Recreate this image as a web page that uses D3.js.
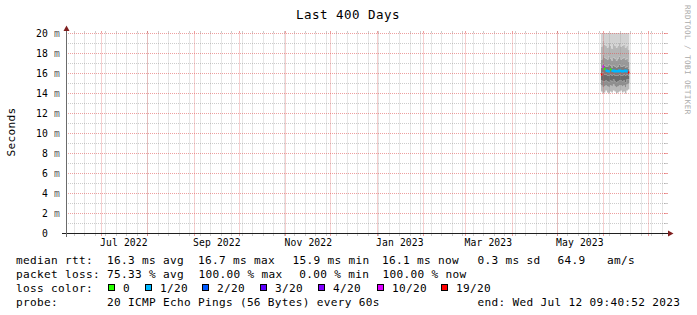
<!DOCTYPE html>
<html>
<head>
<meta charset="utf-8">
<script src="https://cdn.jsdelivr.net/npm/d3@7"></script>
<style>
  html, body { margin: 0; padding: 0; background: #fff; }
  svg { display: block; opacity: 0.999; }
  text { font-family: "DejaVu Sans Mono", monospace; white-space: pre; fill: #000; }
</style>
</head>
<body>
<div id="chart"></div>
<script>
// ---- data ----
const title = 'Last 400 Days';
const yLabel = 'Seconds';
const endTime = new Date(2023, 6, 12, 9, 40, 52);
const rangeDays = 400;

const yTicks = [0, 2, 4, 6, 8, 10, 12, 14, 16, 18, 20];

const days = ['2023-05-30', '2023-05-31', '2023-06-01', '2023-06-02', '2023-06-03', '2023-06-04',
  '2023-06-05', '2023-06-06', '2023-06-07', '2023-06-08', '2023-06-09', '2023-06-10', '2023-06-11',
  '2023-06-12', '2023-06-13', '2023-06-14', '2023-06-15', '2023-06-16', '2023-06-17'];

// median rtt (ms) and lost pings out of 20
const median = [15.9, 16.7, 16.45, 16.3, 16.25, 16.2, 16.4, 16.25, 16.3, 16.2, 16.25, 16.2, 16.3, 16.25, 16.2, 16.25, 16.3, 16.2, 16.1];
const loss = [19, 10, 0, 1, 1, 1, 0, 1, 1, 1, 1, 1, 1, 1, 1, 1, 1, 1, 19];

// smoke: spread of the 20 pings (ms)
const smokeLo  = [14.2, 14.0, 14.1, 14.3, 14.1, 14.0, 14.2, 14.1, 14.3, 14.2, 14.0, 14.1, 14.2, 14.3, 14.1, 14.2, 14.0, 14.3, 14.4];
const smokeP10 = [14.8, 14.6, 14.7, 14.8, 14.7, 14.6, 14.8, 14.7, 14.9, 14.7, 14.6, 14.7, 14.8, 14.8, 14.7, 14.8, 14.6, 14.9, 15.0];
const smokeP25 = [15.3, 15.2, 15.2, 15.3, 15.2, 15.1, 15.3, 15.2, 15.4, 15.2, 15.1, 15.2, 15.3, 15.3, 15.2, 15.3, 15.1, 15.4, 15.4];
const smokeP40 = [15.8, 16.1, 15.9, 15.9, 15.8, 15.8, 15.9, 15.8, 15.9, 15.8, 15.8, 15.8, 15.9, 15.8, 15.8, 15.9, 15.8, 15.9, 15.8];
const smokeP60 = [16.6, 17.0, 16.8, 16.7, 16.7, 16.9, 16.8, 16.6, 16.8, 16.7, 16.6, 16.7, 16.9, 16.7, 16.7, 16.8, 16.6, 16.7, 16.5];
const smokeP75 = [17.4, 17.9, 17.6, 17.5, 17.4, 17.7, 17.5, 17.3, 17.6, 17.5, 17.3, 17.5, 17.7, 17.4, 17.5, 17.6, 17.4, 17.5, 17.2];
const smokeP90 = [18.7, 19.3, 18.9, 18.8, 18.6, 19.1, 18.8, 18.5, 19.0, 18.8, 18.6, 18.8, 19.1, 18.7, 18.8, 18.9, 18.6, 18.8, 18.4];
const smokeHi  = [20.6, 21.4, 20.9, 20.7, 20.5, 21.2, 20.8, 20.4, 21.0, 20.8, 20.3, 20.7, 21.1, 20.6, 20.9, 20.8, 20.5, 20.7, 20.2];

const lossSteps = [0, 1, 2, 3, 4, 10, 19];
const lossLabels = ['0', '1/20', '2/20', '3/20', '4/20', '10/20', '19/20'];
const lossColors = ['#26ff00', '#00b8ff', '#0059ff', '#5e00ff', '#7e00ff', '#dd00ff', '#ff0000'];

const legendRtt = ['median rtt:', '16.3 ms avg', '16.7 ms max', '15.9 ms min', '16.1 ms now', '0.3 ms sd', '64.9', 'am/s'];
const legendLoss = ['packet loss:', '75.33 % avg', '100.00 % max', '0.00 % min', '100.00 % now'];
const probeText = ['probe:', '20 ICMP Echo Pings (56 Bytes) every 60s', 'end: Wed Jul 12 09:40:52 2023'];
const watermark = 'RRDTOOL / TOBI OETIKER';

// ---- drawing ----
const W = 697, H = 315;
const svg = d3.select('#chart').append('svg').attr('width', W).attr('height', H);

const startTime = d3.timeDay.offset(endTime, -rangeDays);
const x = d3.scaleTime().domain([startTime, endTime]).range([66, 666]);
const y = d3.scaleLinear().domain([0, 20]).range([233.5, 33.5]);
const px = v => Math.floor(v) + 0.5;

const parse = d3.timeParse('%Y-%m-%d');
const rows = days.map((d, i) => ({
  t: parse(d), t1: d3.timeDay.offset(parse(d), 1),
  lo: smokeLo[i], p10: smokeP10[i], p25: smokeP25[i], p40: smokeP40[i],
  p60: smokeP60[i], p75: smokeP75[i], p90: smokeP90[i], hi: smokeHi[i],
  med: median[i], loss: loss[i]
}));
const stepRows = rows.concat([Object.assign({}, rows[rows.length - 1], { t: rows[rows.length - 1].t1 })]);

svg.append('clipPath').attr('id', 'plot')
  .append('rect').attr('x', 66).attr('y', 33).attr('width', 601).attr('height', 201);

// smoke bands, outer light to inner dark
const bands = [
  ['lo', 'p10', '#b9b9b9'], ['p10', 'p25', '#8e8e8e'], ['p25', 'p40', '#6c6c6c'],
  ['p40', 'p60', '#7c7c7c'], ['p60', 'p75', '#9a9a9a'], ['p75', 'p90', '#b6b6b6'], ['p90', 'hi', '#d2d2d2']
];
const smoke = svg.append('g').attr('clip-path', 'url(#plot)');
bands.forEach(([a, b, c]) => {
  smoke.append('path').datum(stepRows)
    .attr('fill', c)
    .attr('d', d3.area().curve(d3.curveStepAfter)
      .x(d => x(d.t)).y0(d => y(d[a])).y1(d => y(d[b])));
});

// grid
const grid = svg.append('g').attr('fill', 'none').attr('stroke-width', 1);
const minorColor = 'rgba(143,143,143,0.45)', majorColor = 'rgba(224,80,80,0.55)';
function hLine(v, color) {
  const yy = y(v);
  grid.append('line').attr('x1', 66).attr('x2', 666).attr('y1', yy).attr('y2', yy)
    .attr('stroke', color).attr('stroke-dasharray', '1,1');
  grid.append('line').attr('x1', 664).attr('x2', 668).attr('y1', yy).attr('y2', yy).attr('stroke', color);
}
function vLine(t, color) {
  const xx = px(x(t));
  grid.append('line').attr('x1', xx).attr('x2', xx).attr('y1', 33.5).attr('y2', 233.5)
    .attr('stroke', color).attr('stroke-dasharray', '1,1');
  grid.append('line').attr('x1', xx).attr('x2', xx).attr('y1', 31).attr('y2', 33).attr('stroke', color);
  grid.append('line').attr('x1', xx).attr('x2', xx).attr('y1', 234).attr('y2', 236).attr('stroke', color);
}
y.ticks(20).filter(v => v % 2 !== 0).forEach(v => hLine(v, minorColor));
d3.timeMonday.range(startTime, endTime).forEach(t => vLine(t, minorColor));
yTicks.filter(v => v > 0).forEach(v => hLine(v, majorColor));
d3.timeMonth.range(startTime, endTime).forEach(t => vLine(t, majorColor));

// median line coloured by loss, one path per run of equal loss
const lossColor = l => lossColors[lossSteps.indexOf(l)];
const runs = [];
rows.forEach(r => {
  const last = runs[runs.length - 1];
  if (last && last.loss === r.loss) last.pts.push(r); else runs.push({ loss: r.loss, pts: [r] });
});
const medLine = d3.line().x(p => x(p[0])).y(p => y(p[1]));
runs.forEach(run => {
  const pts = [];
  run.pts.forEach(r => { pts.push([r.t, r.med]); pts.push([r.t1, r.med]); });
  svg.append('path').attr('d', medLine(pts))
    .attr('fill', 'none').attr('stroke', lossColor(run.loss)).attr('stroke-width', 2);
});

// axes and arrows
const axis = svg.append('g');
axis.append('line').attr('x1', 62).attr('x2', 669).attr('y1', 233.5).attr('y2', 233.5)
  .attr('stroke', '#1f1f1f');
axis.append('line').attr('x1', 66.5).attr('x2', 66.5).attr('y1', 237).attr('y2', 30)
  .attr('stroke', '#6b6b6b');
axis.append('path').attr('d', 'M668,230.5L668,236.5L673.5,233.5Z').attr('fill', '#7f1f1f');
axis.append('path').attr('d', 'M63.5,31L69.5,31L66.5,25.5Z').attr('fill', '#7f1f1f');

// axis labels
const tickFont = { size: '9.7px', ls: '0.16px' };
yTicks.forEach(v => {
  svg.append('text').attr('x', 48).attr('y', y(v) + 3.5).attr('text-anchor', 'end')
    .style('font-size', tickFont.size).style('letter-spacing', tickFont.ls).text(v === 0 ? '0' : v);
  if (v > 0) {
    svg.append('text').attr('x', 54).attr('y', y(v) + 3.5)
      .style('font-size', tickFont.size).style('letter-spacing', tickFont.ls)
      .style('fill', '#5a5a5a').text('m');
  }
});
d3.timeMonth.every(2).range(startTime, endTime)
  .filter(t => x(d3.timeDay.offset(t, 15)) < 666)
  .forEach(t => {
    svg.append('text').attr('x', x(d3.timeDay.offset(t, 15))).attr('y', 245.5)
      .attr('text-anchor', 'middle')
      .style('font-size', tickFont.size).style('letter-spacing', tickFont.ls)
      .text(d3.timeFormat('%b %Y')(t));
  });

svg.append('text').attr('transform', 'translate(15,132) rotate(-90)').attr('text-anchor', 'middle')
  .style('font-size', '11.1px').style('letter-spacing', '0.3px').text(yLabel);

svg.append('text').attr('x', 348).attr('y', 18.5).attr('text-anchor', 'middle')
  .style('font-size', '12.5px').style('letter-spacing', '0.47px').text(title);

svg.append('text').attr('transform', 'translate(685,5) rotate(90)')
  .style('font-size', '7.6px').style('letter-spacing', '0.42px').style('fill', '#aaaaaa')
  .text(watermark);

// legend
const lg = svg.append('g').style('font-size', '11.1px').style('letter-spacing', '0.315px');
const rttX = [16, 107, 198, 292.5, 382, 477.5, 557.5, 607];
legendRtt.forEach((s, i) => lg.append('text').attr('x', rttX[i]).attr('y', 264).text(s));
const lossX = [16, 107, 198.5, 299.3, 382.5];
legendLoss.forEach((s, i) => lg.append('text').attr('x', lossX[i]).attr('y', 278).text(s));
lg.append('text').attr('x', 16).attr('y', 292).text('loss color:');
const boxX = [108.5, 145.5, 202.5, 260.5, 318.5, 377.5, 441.5];
lossLabels.forEach((s, i) => {
  lg.append('rect').attr('x', boxX[i]).attr('y', 284.5).attr('width', 6).attr('height', 6)
    .attr('fill', lossColors[i]).attr('stroke', '#000').attr('stroke-width', 1);
  lg.append('text').attr('x', boxX[i] + 14.5).attr('y', 292).text(s);
});
const probeX = [16, 107, 477.5];
probeText.forEach((s, i) => lg.append('text').attr('x', probeX[i]).attr('y', 306).text(s));
</script>
</body>
</html>
